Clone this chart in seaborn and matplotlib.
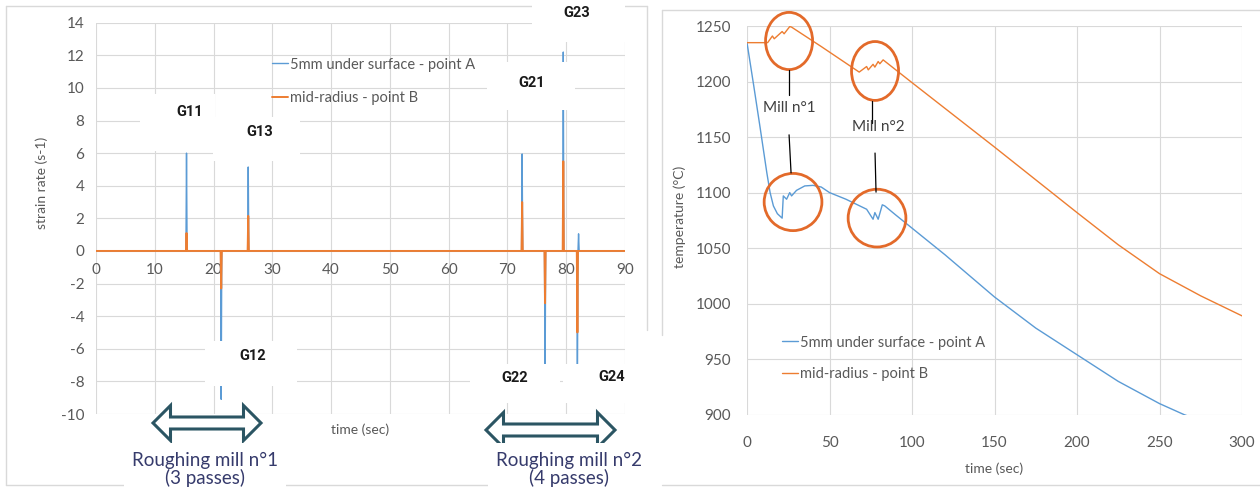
import numpy as np
import pandas as pd
import matplotlib
matplotlib.use("Agg")
import matplotlib.pyplot as plt
import seaborn as sns
from matplotlib.patches import Ellipse, Rectangle, Polygon
from matplotlib.lines import Line2D

# ---------------- data ----------------
series_names = ["5mm under surface - point A", "mid-radius - point B"]

# strain-rate spikes (left chart)
pass_times_A = [15.4, 21.3, 25.9, 72.5, 76.4, 79.5, 81.9, 82.1]
strain_A = [6.0, -9.1, 5.15, 5.95, -8.6, 12.2, -8.6, 1.05]
pass_times_B = [15.4, 21.3, 25.9, 72.5, 76.4, 79.5, 81.9]
strain_B = [1.1, -2.3, 2.15, 3.0, -3.2, 5.5, -5.0]

pass_labels = ["G11", "G12", "G13", "G21", "G22", "G23", "G24"]

# temperature curves (right chart)
time_A = [0, 4, 8, 12, 14, 16, 18.4, 21.3, 22.0, 24.0, 25.9, 27.0, 30, 35, 40, 45,
          50, 60, 72.5, 76.4, 77.5, 79.5, 82.0, 83.5, 90, 100, 110, 120, 135, 150,
          175, 200, 225, 250, 265, 280, 300]
temp_A = [1235, 1197, 1158, 1118, 1100, 1088, 1081, 1077, 1097, 1094, 1100, 1097,
          1102, 1106, 1106.5, 1105, 1100, 1094, 1085, 1076, 1082, 1076, 1089, 1088,
          1080, 1068, 1056, 1044, 1025, 1006, 978, 954, 930, 910, 900, 892, 880]
time_B = [0, 12.5, 15.4, 16.5, 21.3, 22.5, 25.9, 27.0, 45, 68, 72.5, 73.5, 76.4,
          77.5, 79.5, 80.5, 82.5, 100, 150, 200, 225, 250, 275, 300]
temp_B = [1235, 1235, 1241, 1238.5, 1245, 1243, 1249.5, 1249, 1231.5, 1208.5,
          1213.5, 1210.5, 1215.5, 1213, 1218, 1216, 1219.5, 1199, 1141, 1082,
          1053, 1027, 1007, 989]

# ---------------- style ----------------
BLUE = "#5b9bd5"
ORANGE = "#ed7d31"
CIRC = "#e36a2a"
GRID = "#d9d9d9"
TICK = "#595959"
NAVY = "#363b6c"
TEAL = "#2b5563"

sns.set_style("white")
plt.rcParams["font.family"] = ["Lato", "DejaVu Sans"]
plt.rcParams["axes.unicode_minus"] = False

W, H = 1260, 493
fig = plt.figure(figsize=(12.6, 4.93), dpi=100)
fig.patch.set_facecolor("white")


def fx(px):
    return px / W


def fy(py):
    return 1 - py / H


def spikes(times, vals, t0, t1, hw=0.1):
    t = [t0]
    v = [0.0]
    for tt, vv in zip(times, vals):
        t += [tt - hw, tt, tt + hw]
        v += [0.0, vv, 0.0]
    t.append(t1)
    v.append(0.0)
    return pd.DataFrame({"t": t, "v": v})


# panel frames
def fline(xs, ys, **kw):
    fig.add_artist(Line2D([fx(x) for x in xs], [fy(y) for y in ys],
                          transform=fig.transFigure, color=GRID, lw=1, zorder=-1, **kw))


fline([6, 647], [6, 6])
fline([6, 6], [6, 485])
fline([6, 647], [485, 485])
fline([647, 647], [6, 330])
fline([662, 1260], [10, 10])
fline([662, 662], [10, 335])
fline([662, 1260], [485, 485])

# ---------------- left chart ----------------
axL = fig.add_axes([fx(96), fy(414), 529 / W, 391.3 / H])
axL.set_facecolor("white")
dfA = spikes(pass_times_A, strain_A, 0, 90)
dfB = spikes(pass_times_B, strain_B, 0, 90)
sns.lineplot(data=dfA, x="t", y="v", ax=axL, color=BLUE, lw=1.0, sort=False,
             estimator=None, zorder=2)
sns.lineplot(data=dfB, x="t", y="v", ax=axL, color=ORANGE, lw=1.4, sort=False,
             estimator=None, zorder=3)
axL.set_xlim(0, 90)
axL.set_ylim(-10, 14)
axL.set_xticks(range(0, 91, 10))
axL.set_yticks(range(-10, 15, 2))
for s in axL.spines.values():
    s.set_visible(False)
axL.spines["bottom"].set_position(("data", 0))
axL.grid(True, color=GRID, lw=0.8)
axL.set_axisbelow(True)
axL.tick_params(axis="both", length=0, labelsize=11, colors=TICK)
axL.tick_params(axis="x", pad=9)
axL.tick_params(axis="y", pad=8.5)
axL.set_xlabel("time (sec)", fontsize=10, color=TICK)
axL.xaxis.set_label_coords(0.5, -0.024)
axL.set_ylabel("strain rate (s-1)", fontsize=10, color=TICK)
axL.yaxis.set_label_coords(-0.091, 0.59)

legL = axL.legend(
    handles=[Line2D([], [], color=BLUE, lw=1.0), Line2D([], [], color=ORANGE, lw=1.4)],
    labels=series_names, loc="upper left", bbox_to_anchor=(fx(272), fy(57.5)),
    bbox_transform=fig.transFigure, frameon=False, fontsize=10.5, handlelength=1.1,
    handletextpad=0.15, labelspacing=1.35, borderpad=0, borderaxespad=0)
for t in legL.get_texts():
    t.set_color(TICK)

# white label boxes (data coords) : (t0, t1, v0, v1, text_t, text_v)
label_boxes = {
    "G11": (7.5, 20.2, 6.15, 9.6, 16.0, 8.5),
    "G13": (19.9, 34.7, 5.5, 8.2, 27.9, 7.3),
    "G12": (18.5, 34.2, -8.3, -5.5, 26.7, -6.45),
    "G21": (66.5, 81.5, 8.65, 11.6, 74.2, 10.3),
    "G23": (74.2, 90.0, 12.8, 15.4, 81.8, 14.6),
    "G22": (63.6, 79.0, -9.3, -6.95, 71.3, -7.8),
    "G24": (79.4, 92.5, -9.3, -6.95, 87.8, -7.75),
}
for name in pass_labels:
    t0, t1, v0, v1, tt, tv = label_boxes[name]
    axL.add_patch(Rectangle((t0, v0), t1 - t0, v1 - v0, facecolor="white",
                            edgecolor="none", zorder=4, clip_on=False))
    axL.text(tt, tv, name, ha="center", va="center", fontsize=10.5,
             fontweight="bold", color="#1a1a1a", family=["Roboto", "DejaVu Sans"],
             zorder=5, clip_on=False)


# double block arrows (figure pixels)
def darrow(x0, x1, yc, Hh=35, h=12, L=17.5):
    pts = [(x0, yc), (x0 + L, yc - Hh / 2), (x0 + L, yc - h / 2), (x1 - L, yc - h / 2),
           (x1 - L, yc - Hh / 2), (x1, yc), (x1 - L, yc + Hh / 2), (x1 - L, yc + h / 2),
           (x0 + L, yc + h / 2), (x0 + L, yc + Hh / 2)]
    poly = Polygon([(fx(a), fy(b)) for a, b in pts], closed=True, facecolor="white",
                   edgecolor=TEAL, lw=2.2, transform=fig.transFigure, zorder=3,
                   joinstyle="miter")
    fig.add_artist(poly)


darrow(153, 261, 423)
darrow(486, 615, 430)

for xc, txt in [(205, "Roughing mill n°1\n(3 passes)"), (569, "Roughing mill n°2\n(4 passes)")]:
    fig.text(fx(xc), fy(469), txt, ha="center", va="center", fontsize=13.5,
             color=NAVY, linespacing=1.0, zorder=3,
             bbox=dict(facecolor="white", edgecolor="none", pad=6))

# ---------------- right chart ----------------
axR = fig.add_axes([fx(747), fy(414.7), 495 / W, 388.7 / H])
axR.set_facecolor("white")
dfTA = pd.DataFrame({"t": time_A, "T": temp_A})
dfTB = pd.DataFrame({"t": time_B, "T": temp_B})
sns.lineplot(data=dfTA, x="t", y="T", ax=axR, color=BLUE, lw=1.0, sort=False,
             estimator=None, zorder=2)
sns.lineplot(data=dfTB, x="t", y="T", ax=axR, color=ORANGE, lw=1.0, sort=False,
             estimator=None, zorder=2)
axR.set_xlim(0, 300)
axR.set_ylim(900, 1250)
axR.set_xticks(range(0, 301, 50))
axR.set_yticks(range(900, 1251, 50))
for s in axR.spines.values():
    s.set_visible(False)
axR.grid(True, color=GRID, lw=0.8)
axR.set_axisbelow(True)
axR.tick_params(axis="both", length=0, labelsize=11, colors=TICK)
axR.tick_params(axis="x", pad=15)
axR.tick_params(axis="y", pad=11.5)
axR.set_xlabel("time (sec)", fontsize=10, color=TICK)
axR.xaxis.set_label_coords(0.5, -0.122)
axR.set_ylabel("temperature (°C)", fontsize=10, color=TICK)
axR.yaxis.set_label_coords(-0.123, 0.509)

legR = axR.legend(
    handles=[Line2D([], [], color=BLUE, lw=1.0), Line2D([], [], color=ORANGE, lw=1.0)],
    labels=series_names, loc="upper left", bbox_to_anchor=(fx(782), fy(335.5)),
    bbox_transform=fig.transFigure, frameon=False, fontsize=10.5, handlelength=1.1,
    handletextpad=0.15, labelspacing=1.2, borderpad=0, borderaxespad=0)
for t in legR.get_texts():
    t.set_color(TICK)

# mill circles (data coords): center t, center T, width s, height °C
circles = [(25.5, 1236.5, 28.5, 51.5), (77.6, 1209.5, 28.5, 53.0),
           (27.9, 1091.5, 35.0, 51.5), (78.8, 1077.0, 35.0, 52.0)]
for ct, cT, cw, ch in circles:
    axR.add_patch(Ellipse((ct, cT), cw, ch, fill=False, edgecolor=CIRC, lw=2.0,
                          clip_on=False, zorder=4))

connectors = [([25.5, 25.5], [1210.4, 1188.0]), ([25.5, 26.7], [1152.0, 1117.7]),
              ([75.8, 75.8], [1182.4, 1162.6]), ([77.6, 78.2], [1135.6, 1100.4])]
for xs, ys in connectors:
    axR.add_line(Line2D(xs, ys, color="black", lw=0.9, zorder=4))

axR.text(25.8, 1176.2, "Mill n°1", ha="center", va="center", fontsize=11,
         color="#404040", zorder=5)
axR.text(79.4, 1159.0, "Mill n°2", ha="center", va="center", fontsize=11,
         color="#404040", zorder=5)

fig.savefig("out.png", dpi=100, facecolor="white")
